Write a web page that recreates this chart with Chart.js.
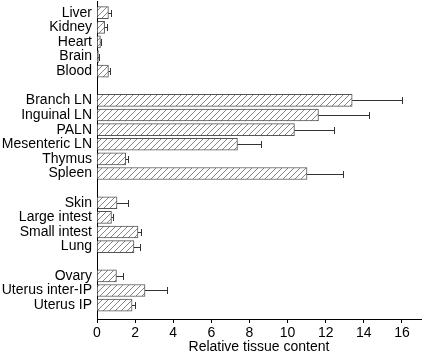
<!DOCTYPE html>
<html>
<head>
<meta charset="utf-8">
<script src="https://cdn.jsdelivr.net/npm/chart.js@4/dist/chart.umd.min.js"></script>
<style>
html,body{margin:0;padding:0;background:#fff;}
canvas{display:block;}
</style>
</head>
<body>
<canvas id="c" width="422" height="360"></canvas>
<script>
// Categories (blank entries are group gaps)
const categories = ['Liver','Kidney','Heart','Brain','Blood','',
  'Branch LN','Inguinal LN','PALN','Mesenteric LN','Thymus','Spleen','',
  'Skin','Large intest','Small intest','Lung','',
  'Ovary','Uterus inter-IP','Uterus IP'];
// Mean relative tissue content
const values = [0.60,0.40,0.18,0.08,0.60,null,
  13.39,11.62,10.36,7.37,1.51,11.02,null,
  1.05,0.76,2.15,1.94,null,
  1.02,2.52,1.84];
// Error (upper) amount
const errors = [0.15,0.10,0.05,0.03,0.10,null,
  2.61,2.66,2.08,1.21,0.12,1.89,null,
  0.58,0.06,0.14,0.30,null,
  0.37,1.14,0.18];
const xTicks = [0,2,4,6,8,10,12,14,16];

Chart.defaults.font.family = '"Liberation Sans", Arial, Helvetica, sans-serif';
Chart.defaults.font.size = 14;
Chart.defaults.color = '#000';

function hatch() {
  const p = document.createElement('canvas');
  p.width = 6; p.height = 6;
  const g = p.getContext('2d');
  g.fillStyle = '#fff';
  g.fillRect(0,0,6,6);
  g.strokeStyle = '#777';
  g.lineWidth = 0.9;
  g.beginPath();
  g.moveTo(0,6); g.lineTo(6,0);
  g.moveTo(-1,1); g.lineTo(1,-1);
  g.moveTo(5,7); g.lineTo(7,5);
  g.stroke();
  return document.getElementById('c').getContext('2d').createPattern(p,'repeat');
}

const points = [];
categories.forEach((c,i) => { if (values[i] !== null) points.push({x: values[i], y: i}); });

const errorBars = {
  id: 'errorBars',
  afterDatasetsDraw(chart) {
    const ctx = chart.ctx, xs = chart.scales.x, ys = chart.scales.y;
    ctx.save();
    ctx.strokeStyle = '#333';
    ctx.lineWidth = 1;
    categories.forEach((c,i) => {
      if (values[i] === null || errors[i] === null) return;
      const x0 = xs.getPixelForValue(values[i]);
      const x1 = Math.round(xs.getPixelForValue(values[i] + errors[i])) + 0.5;
      const y = Math.round(ys.getPixelForValue(i)) + 0.5;
      ctx.beginPath();
      ctx.moveTo(x0, y); ctx.lineTo(x1, y);
      ctx.moveTo(x1, y - 3.5); ctx.lineTo(x1, y + 3.5);
      ctx.stroke();
    });
    ctx.restore();
  }
};

new Chart(document.getElementById('c'), {
  type: 'bar',
  data: {
    datasets: [{
      data: points,
      backgroundColor: hatch(),
      borderColor: '#555',
      borderWidth: 1,
      barThickness: 12
    }]
  },
  options: {
    indexAxis: 'y',
    responsive: false,
    animation: false,
    layout: { padding: { top: 1, right: 1, left: 0, bottom: 0 } },
    plugins: { legend: { display: false }, tooltip: { enabled: false } },
    scales: {
      y: {
        type: 'linear',
        reverse: true,
        offset: false,
        min: -0.8,
        max: 20.95,
        afterBuildTicks: s => { s.ticks = categories.map((c,i) => ({value: i})); },
        afterFit: s => { s.width = 97; s.paddingTop = 0; s.paddingBottom = 0; },
        grid: { display: false, drawTicks: false, offset: false },
        border: { display: true, color: '#000', width: 1 },
        ticks: {
          autoSkip: false,
          padding: 5,
          callback: v => categories[v] ?? '',
          font: { size: 14 }
        }
      },
      x: {
        type: 'linear',
        min: 0,
        max: 17,
        offset: false,
        afterBuildTicks: s => { s.ticks = xTicks.map(v => ({value: v})); },
        afterFit: s => { s.height = 41; s.paddingLeft = 0; s.paddingRight = 0; },
        grid: { drawOnChartArea: false, drawTicks: true, tickLength: 4, color: '#000' },
        border: { display: true, color: '#000', width: 1 },
        ticks: { padding: 2, autoSkip: false, maxRotation: 0, font: { size: 14 } },
        title: {
          display: true,
          text: 'Relative tissue content',
          font: { size: 14, lineHeight: 1.2 },
          padding: { top: 0, bottom: 4 }
        }
      }
    }
  },
  plugins: [errorBars]
});
</script>
</body>
</html>
